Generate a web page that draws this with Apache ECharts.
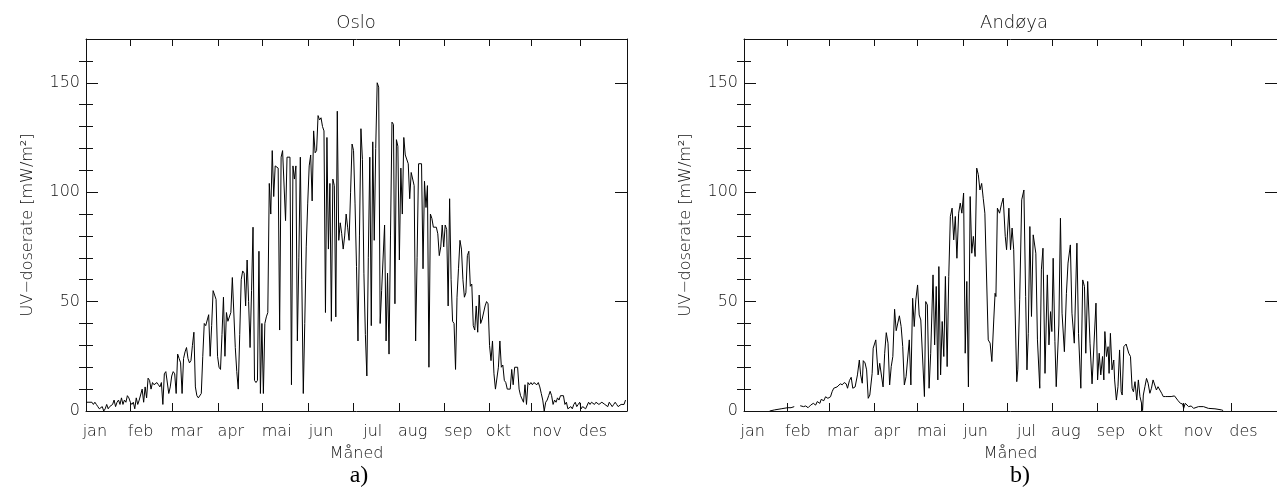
<!DOCTYPE html>
<html>
<head>
<meta charset="utf-8">
<title>UV-doserate Oslo og Andøya</title>
<script src="https://cdn.jsdelivr.net/npm/echarts@6/dist/echarts.min.js"></script>
<style>
html, body { margin: 0; padding: 0; background: #fff; }
#chart { width: 1277px; height: 488px; }
</style>
</head>
<body>
<div id="chart"></div>
<script>
// månedsnavn, tick-posisjoner (dag i året) og posisjon for etikettene
const months = ['jan', 'feb', 'mar', 'apr', 'mai', 'jun', 'jul', 'aug', 'sep', 'okt', 'nov', 'des']
const monthTicks = [0, 30, 58.5, 89.5, 119, 150.5, 181, 212, 242.5, 273, 301.5, 334.5]
const monthLabelDays = [6, 37, 68, 98, 129, 159, 194, 221, 252, 279, 312, 343]

const yMajor = [0, 50, 100, 150]
const yMinor = [10, 20, 30, 40, 60, 70, 80, 90, 110, 120, 130, 140, 160]

// Oslo: en verdi per dag (dag 0..365)
const osloUv = [
  // jan
  4, 4, 4, 4, 4, 3, 4, 3, 2, 1, 1, 2, 0, 1, 3, 1, 2, 2, 3, 5, 2, 4, 5, 3, 6, 3, 5, 4, 7, 6, 4,
  // feb
  3, 4, 1, 6, 3, 5, 5, 10, 4, 11, 6, 15, 14, 10, 13, 12, 12, 13, 12, 11, 13, 3, 17, 18, 18, 8, 11, 16,
  // mar
  18, 17, 8, 26, 24, 22, 8, 24, 27, 29, 24, 22, 23, 30, 36, 11, 7, 6, 6, 8, 25, 40, 39, 39, 44, 25, 39, 55, 53, 51, 25,
  // apr
  20, 19, 35, 52, 25, 45, 41, 41, 45, 61, 61, 29, 18, 10, 35, 60, 64, 63, 48, 69, 50, 29, 55, 84, 14, 13, 14, 73, 8, 40,
  // mai
  8, 40, 43, 45, 104, 90, 119, 98, 112, 112, 111, 37, 116, 119, 119, 87, 116, 116, 116, 12, 112, 106, 112, 32, 70, 116, 60, 8, 40, 75, 95,
  // jun
  112, 117, 96, 128, 118, 119, 135, 133, 134, 130, 128, 45, 125, 74, 104, 41, 106, 103, 43, 137, 78, 86, 81, 74, 80, 90, 84, 78, 100, 122,
  // jul
  119, 95, 66, 32, 80, 129, 115, 63, 35, 16, 70, 116, 39, 123, 78, 120, 150, 148, 40, 55, 55, 85, 32, 63, 26, 80, 132, 131, 49, 124, 121,
  // aug
  69, 111, 90, 125, 117, 117, 113, 97, 109, 109, 103, 32, 70, 113, 113, 113, 65, 105, 93, 103, 20, 90, 88, 84, 84, 84, 81, 71, 75, 85, 75,
  // sep
  85, 83, 48, 97, 60, 41, 40, 19, 52, 65, 78, 74, 60, 52, 54, 71, 73, 57, 58, 39, 37, 48, 36, 53, 40, 42, 42, 48, 50, 49,
  // okt
  30, 23, 32, 17, 10, 10, 20, 32, 20, 21, 14, 13, 10, 10, 10, 19, 12, 20, 20, 20, 10, 7, 7, 4, 12, 3, 13, 12, 13, 12, 13,
  // nov
  13, 12, 13, 11, 8, 5, 0, 4, 5, 7, 9, 7, 3, 5, 4, 6, 5, 7, 7, 7, 3, 4, 1, 1, 2, 1, 3, 4, 2, 3,
  // des
  4, 1, 2, 2, 1, 1, 4, 3, 4, 4, 3, 4, 4, 3, 3, 4, 4, 3, 3, 2, 4, 4, 2, 3, 4, 3, 2, 2, 3, 3, 3, 5
]

// Andøya: [dag, verdi], null = hull i målingene
const andoyaPoints = [
  [17.6, 0], [21, 0.5], [25.5, 1], [30, 1.5], [32.3, 1.5], [34.5, 2], [36.5, null],
  [38.6, 2.4], [40.9, 2], [42.4, 2.3], [44, 1.5], [45.8, 2.7], [47.6, 3.5], [49.2, 2.7], [50.3, 4.3],
  [52.1, 3.5], [53, 5.3], [54.8, 4.7], [56, 6.5], [57.6, 5.8], [59.4, 6.5], [60.5, 8.8], [61.6, 10.4],
  [62.7, 10], [63.9, 11], [65, 11.4], [66.1, 12.4], [67.5, 12], [68.8, 13], [70.2, 12.4], [71.1, 10.4],
  [72.4, 13.9], [73.6, 15.4], [74.7, 10.4], [76.3, 11], [77.9, 16.5], [79.2, 23.3], [80.1, 16.5],
  [81.2, 12.7], [81.9, 23], [83.1, 22], [84.2, 18.8], [85.3, 5.8], [86.4, 7.3], [88, 17.2], [88.7, 28.7],
  [90.5, 32.5], [92.1, 16.5], [93.2, 21.8], [94.3, 22], [95.5, 11], [96.6, 26.4], [97.7, 35.8], [98.9, 31],
  [100, 11.9], [101.1, 20.3], [102.2, 24.9], [103.4, 46.5], [104.5, 36.7], [105.6, 36.3], [106.7, 43.5],
  [107.9, 38.6], [109, 29.4], [110.1, 11.9], [111.3, 15.7], [112.4, 15.7], [113.5, 32.5], [114.6, 11.9],
  [115.8, 51.5], [116.9, 38.6], [118, 50.8], [119.2, 57.6], [120.3, 43.9], [121.4, 41.6], [122.5, 40.9],
  [123.9, 6.6], [124.8, 50], [125.9, 48.5], [127.1, 10.4], [128.2, 26.4], [129.8, 62.2], [130.9, 30.2],
  [132, 56.9], [133.1, 14.2], [133.8, 66], [135, 16.5], [136.1, 40.9], [137.2, 24.9], [138.3, 61.5],
  [139.5, 20.3], [140.6, 61.5], [141.7, 88.9], [142.9, 92.7], [144, 78.2], [145.1, 88.9], [146.2, 69.8],
  [147.4, 90.4], [148.5, 95], [149.6, 90.4], [150.8, 99.6], [151.9, 26.4], [153, 59.2], [154.1, 11],
  [155.3, 98], [156.4, 72.1], [157.5, 79.8], [158.7, 70.6], [159.8, 111], [160.9, 108], [162, 101],
  [163.2, 104], [164.3, 97], [165.4, 90.4], [167.7, 32.5], [169, 31], [170.2, 22.6], [171.5, 41.6],
  [172.4, 53.8], [173, 52.3], [174, 92.7], [175.5, 90.4], [176.7, 94.2], [178, 97.3], [179.4, 79.8],
  [180.3, 73.7], [181.9, 92.7], [183, 73.7], [184.1, 83.6], [185.2, 73.7], [187.3, 13.4], [188, 18.8],
  [189.3, 50.8], [190.7, 96.5], [192.2, 101], [193.4, 52.3], [194.3, 18.8], [195.2, 35.5], [196.3, 84.3],
  [197.4, 43.2], [198.6, 80.5], [200.4, 72.1], [201.5, 32.5], [203.1, 10.4], [204.2, 64.5], [205.3, 74.4],
  [206.7, 17.2], [208.3, 62.2], [209.4, 30.2], [210.5, 45.4], [211.4, 36.3], [212.3, 69.8], [213.5, 31.7],
  [214.4, 11.1], [216.2, 39.3], [217.3, 88.1], [218.4, 44.7], [220, 27.1], [221.4, 53.8], [222.5, 67.6],
  [224.1, 75.9], [225.2, 44.7], [226.8, 31], [228.6, 76.7], [229.7, 35.5], [231.3, 10.4], [232.6, 59.9],
  [233.8, 56.9], [234.7, 26.4], [236, 59.2], [237.6, 31], [239, 12.4], [240.3, 12.7], [241.7, 49.3],
  [242.8, 14.2], [243.9, 26.4], [245, 16.5], [246.2, 24.9], [247.1, 14.2], [247.8, 36.3], [248.9, 24.9],
  [250, 29.4], [250.7, 17.2], [251.6, 35.5], [252.7, 18.8], [253.9, 23.3], [254.5, 14.2], [255.7, 5],
  [256.8, 11.1], [257.9, 27.9], [259, 8.8], [259.7, 7.3], [260.8, 29.4], [262.4, 30.6], [264.2, 26.4],
  [265.4, 24.9], [266.5, 10.4], [267.4, 8.8], [268.5, 13.4], [269.7, 5], [270.8, 14.2], [271.9, 6.6],
  [273, 3.5], [273.7, 0.2], [274.2, 7.3], [275.3, 11.1], [276.4, 14.9], [277.5, 12.7], [278.7, 8.1],
  [279.8, 10.4], [280.9, 14.2], [282.1, 13.4], [283.2, 9.6], [284.3, 11.1], [285.4, 10.4], [286.8, 8.1],
  [287.9, 6.6], [289.5, 6.6], [291.1, 6.6], [292.2, 5.8], [293.3, 6.6], [294.5, 5.8], [295.6, 6.9],
  [296.7, 6.3], [298.1, 4.7], [299.7, 3.5], [301.2, 3.2], [301.9, 1.2], [303, 3.5], [304.2, 2.7],
  [305.3, 2], [307.1, 2.3], [308.7, 1.2], [309.8, 1.7], [312.1, 2], [315.5, 2], [318.9, 1.2],
  [323.4, 1], [327.9, 0.5], [329, 0.2]
]

const FONT = 'DejaVu Sans'
const INK = '#111'
const textBase = { fontFamily: FONT, fontWeight: 200, color: INK, fontSize: 16 }

function xAxes(g) {
  const common = {
    gridIndex: g,
    type: 'value',
    min: 0,
    max: 366,
    splitLine: { show: false },
    axisLine: { show: true, onZero: false, lineStyle: { color: INK, width: 1 } },
  }
  return [
    {
      ...common,
      position: 'bottom',
      axisTick: { show: true, inside: true, length: 8, customValues: monthTicks, lineStyle: { color: INK } },
      axisLabel: {
        ...textBase,
        customValues: monthLabelDays,
        margin: 13,
        formatter: (v) => months[monthLabelDays.indexOf(v)] ?? '',
      },
      name: 'Måned',
      nameLocation: 'middle',
      nameGap: 35,
      nameTextStyle: textBase,
    },
    {
      ...common,
      position: 'top',
      axisTick: { show: true, inside: true, length: 7, customValues: monthTicks, lineStyle: { color: INK } },
      axisLabel: { show: false },
    },
  ]
}

function yAxes(g) {
  const common = {
    gridIndex: g,
    type: 'value',
    min: 0,
    max: 170,
    splitLine: { show: false },
  }
  const major = (pos) => ({
    ...common,
    position: pos,
    axisLine: { show: true, onZero: false, lineStyle: { color: INK, width: 1 } },
    axisTick: { show: true, inside: true, length: 12, customValues: yMajor, lineStyle: { color: INK } },
  })
  const minor = (pos) => ({
    ...common,
    position: pos,
    axisLine: { show: false },
    axisTick: { show: true, inside: true, length: 7, customValues: yMinor, lineStyle: { color: INK } },
    axisLabel: { show: false },
  })
  return [
    {
      ...major('left'),
      axisLabel: { ...textBase, customValues: yMajor, margin: 6 },
      name: 'UV−doserate [mW/m²]',
      nameLocation: 'middle',
      nameGap: 50,
      nameTextStyle: textBase,
    },
    minor('left'),
    { ...major('right'), axisLabel: { show: false } },
    minor('right'),
  ]
}

function lineSeries(xi, yi, data) {
  return {
    type: 'line',
    xAxisIndex: xi,
    yAxisIndex: yi,
    data,
    showSymbol: false,
    connectNulls: false,
    lineStyle: { color: '#000', width: 1 },
    emphasis: { disabled: true },
  }
}

const chart = echarts.init(document.getElementById('chart'), null, { renderer: 'canvas' })

chart.setOption({
  animation: false,
  backgroundColor: '#fff',
  grid: [
    { left: 86, right: 650, top: 39, bottom: 77 },
    { left: 744, right: -8, top: 39, bottom: 77 },
  ],
  xAxis: [...xAxes(0), ...xAxes(1)],
  yAxis: [...yAxes(0), ...yAxes(1)],
  series: [
    lineSeries(0, 0, osloUv.map((v, i) => [i, v])),
    lineSeries(2, 4, andoyaPoints),
  ],
  graphic: [
    { type: 'text', x: 356, y: 23, style: { text: 'Oslo', align: 'center', verticalAlign: 'middle', font: `200 18px "${FONT}"`, fill: INK } },
    { type: 'text', x: 1014, y: 23, style: { text: 'Andøya', align: 'center', verticalAlign: 'middle', font: `200 18px "${FONT}"`, fill: INK } },
    { type: 'text', x: 359, y: 476, style: { text: 'a)', align: 'center', verticalAlign: 'middle', font: '24px "Liberation Serif"', fill: '#000' } },
    { type: 'text', x: 1020, y: 476, style: { text: 'b)', align: 'center', verticalAlign: 'middle', font: '24px "Liberation Serif"', fill: '#000' } },
  ],
})

window.addEventListener('resize', () => chart.resize())
</script>
</body>
</html>
